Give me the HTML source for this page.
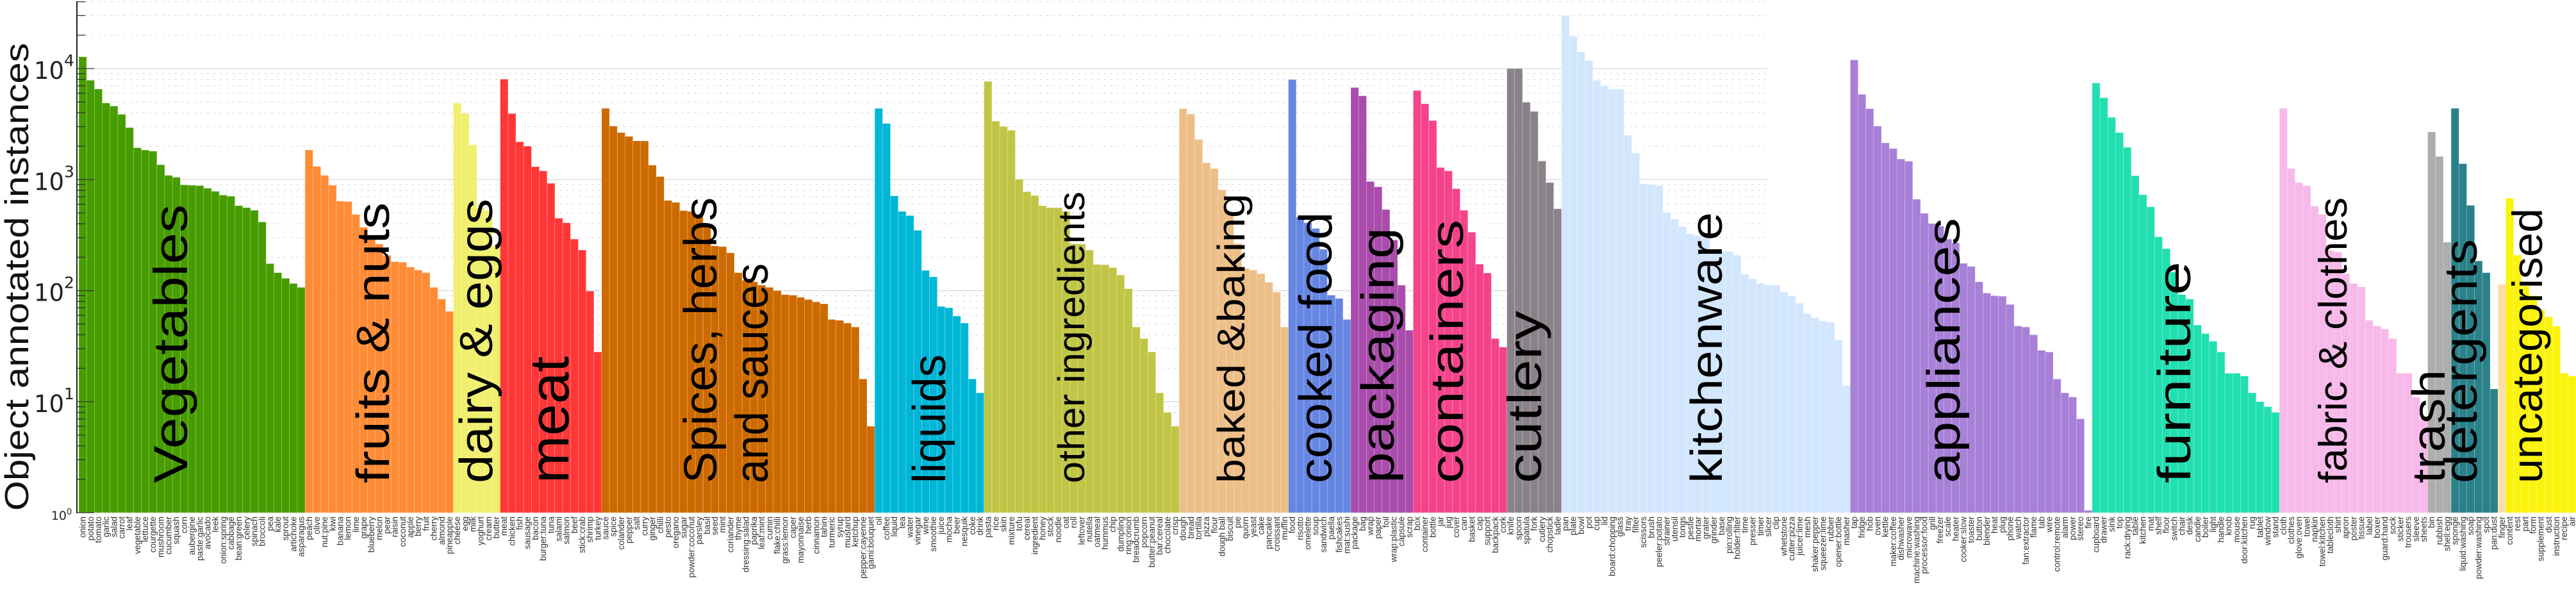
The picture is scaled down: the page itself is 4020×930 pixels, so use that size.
<!DOCTYPE html>
<html><head><meta charset="utf-8"><title>Object annotated instances by category</title>
<style>
html,body{margin:0;padding:0;background:#fff;}
svg{display:block;}
text{font-family:"Liberation Sans Narrow","Liberation Sans",sans-serif;}
</style></head>
<body>
<svg id="chart" width="4020" height="930" viewBox="0 0 4020 930" xmlns="http://www.w3.org/2000/svg">
<g id="grid"></g>
<g id="bars"></g>
<g id="catlabels"></g>
<g id="xlabels"></g>
<g id="yaxis"></g>
<text transform="translate(44,432) rotate(-90)" text-anchor="middle" font-size="52" textLength="730" lengthAdjust="spacingAndGlyphs" fill="#111">Object annotated instances</text>
</svg>
<script>
const categoryNames = ["Vegetables","fruits & nuts","dairy & eggs","meat","Spices, herbs|and sauces","liquids","other ingredients","baked &baking","cooked food","packaging","containers","cutlery","kitchenware","appliances","furniture","fabric & clothes","trash","detergents","","uncategorised"];
const categoryCounts = [29,19,6,13,35,14,25,14,8,8,12,7,37,31,24,19,3,6,1,9];
const labels = [
"onion","potato","tomato","garlic","salad","carrot","leaf","vegetable","lettuce","courgette","mushroom","cucumber","squash","corn","aubergine","paste:garlic","avocado","leek","onion:spring","cabbage","bean:green","celery","spinach","broccoli","pea","kale","sprout","artichoke","asparagus",
"peach","olive","nut:pine","kiwi","banana","lemon","lime","grape","blueberry","melon","pear","raisin","coconut","apple","berry","fruit","cherry","almond","pineapple",
"cheese","egg","milk","yoghurt","cream","butter",
"meat","chicken","fish","sausage","bacon","burger:tuna","tuna","salami","salmon","beef","stick:crab","shrimp","turkey",
"sauce","spice","colander","pepper","salt","curry","ginger","chilli","pesto","oregano","sugar","powder:coconut","parsley","basil","seed","mint","coriander","thyme","dressing:salad","paprika","leaf:mint","cumin","flake:chilli","grass:lemon","caper","mayonnaise","herb","cinnamon","tahini","turmeric","syrup","mustard","ketchup","pepper:cayenne","gami:bouquet",
"oil","coffee","liquid","tea","water","vinegar","wine","smoothie","juice","mocha","beer","nesquik","coke","drink",
"pasta","rice","skin","mixture","tofu","cereal","ingredient","honey","stock","noodle","oat","roll","leftover","nutella","oatmeal","hummus","chip","dumpling","ring:onion","breadcrumb","popcorn","butter:peanut","bar:cereal","chocolate","crisp",
"dough","bread","tortilla","pizza","flour","dough ball","biscuit","pie","quorn","yeast","cake","pancake","croissant","muffin",
"food","risotto","omelette","soup","sandwich","paella","fishcakes","mat:sushi",
"package","bag","wrap","paper","foil","wrap:plastic","capsule","scrap",
"box","container","bottle","jar","jug","cover","can","basket","cap","support","backpack","cork",
"knife","spoon","spatula","fork","cutlery","chopstick","ladle",
"pan","plate","bowl","pot","cup","lid","board:chopping","glass","tray","filter","scissors","brush","peeler:potato","strainer","utensil","tongs","pestle","mortar","grater","grinder","base","pin:rolling","holder:filter","time","presser","timer","slicer","clip","whetstone","cutter:pizza","juicer:lime","mesh","shaker:pepper","squeezer:lime","rubber","opener:bottle","masher",
"tap","fridge","hob","oven","kettle","maker:coffee","dishwasher","microwave","machine:washing","processor:food","grill","freezer","scale","heater","cooker:slow","toaster","button","blender","heat","plug","phone","watch","fan:extractor","flame","tab","wire","control:remote","alarm","power","stereo","fire",
"cupboard","drawer","sink","top","rack:drying","table","kitchen","mat","shelf","floor","switch","chair","desk","candle","boiler","light","handle","knob","mouse","door:kitchen","rug","tablet","window","stand",
"cloth","clothes","glove:oven","towel","napkin","towel:kitchen","tablecloth","shirt","apron","poster","tissue","label","boxer","guard:hand","sock","sticker","trousers","sleeve","sheets",
"bin","rubbish","shell:egg",
"sponge","liquid:washing","soap","powder:washing","spot","pan:dust",
"finger",
"content","rest","part","form","supplement","dust","instruction","recipe","air"];
const counts = [
12760,7840,6540,4890,4590,3865,2937,1935,1847,1803,1359,1091,1048,896,889,882,835,784,725,708,582,559,529,415,175,145,129,116,107,
1847,1316,1091,889,639,634,485,372,310,263,208,182,180,163,153,145,107,84,65,
4890,3960,2060,559,525,249,
8020,3930,2190,2000,1306,1197,925,449,408,291,232,99,28,
4380,3030,2650,2450,2230,2230,1349,1064,649,624,525,517,467,393,253,249,219,145,124,120,112,107,100,92,91,87,83,79,76,55,54,51,47,16,6,
4380,3200,713,517,474,349,152,133,72,70,59,51,16,12,
7660,3360,3010,2780,1007,778,719,582,559,559,517,265,263,232,172,171,161,138,104,47,37,28,12,8,6,
4350,3890,2300,1413,1256,809,497,265,159,153,142,119,97,47,
7960,459,408,363,236,91,85,55,
6750,5680,962,861,537,286,112,44,
6340,4820,3400,1285,1197,828,529,336,173,144,37,31,
10000,10000,4970,4110,1470,940,546,
30000,19500,14130,11800,7840,7020,6540,6540,2510,1730,917,903,882,505,442,378,325,313,298,234,226,225,208,140,128,116,112,112,97,90,77,62,57,53,52,36,14,
11970,5860,4350,3030,2140,1905,1530,1460,665,497,402,380,291,269,176,165,120,95,90,89,75,48,47,40,29,28,16,12,11,7,1.05,
7410,5460,3630,2650,1950,1082,730,568,305,239,147,92,84,49,41,35,28,18,18,17,12,10,9,8,
4380,1256,940,882,577,485,230,223,142,116,108,54,48,45,37,18,18,11,7,
2690,1615,273,
4380,1390,586,185,145,13,
114,
681,209,110,90,67,58,48,18,17];

const colors = ["#479c00","#ff8b35","#f0ef6e","#ff3636","#cc6a00","#00b6d6","#c1c545","#edbf88","#6686e2","#a94cab","#f4438a","#8a8289","#d2e7fd","#a780d7","#21dfb0","#f7b9e9","#adadac","#2a8189","#fcdcab","#fbf30c"];
// label layout: [baseline x, bottom y, length, font size]
const labelLayout = [[292,754,435,74],[607,754,438,72],[768,754,444,72],[887,754,198,86],[[1118,754,446,72],[1198,754,343,72]],[1475,754,201,72],[1692,754,455,58],[1942,754,452,60],[2078,754,423,72],[2175,754,399,72],[2283,754,411,72],[2405,754,269,74],[2687,754,423,70],[3058,754,414,72],[3418,754,346,72],[3662,754,446,62],[3815,754,177,72],[3865,754,381,72],null,[3967,754,429,66]];

const NS="http://www.w3.org/2000/svg";
const X0=123, BW=(4020-123)/counts.length, YB=800, DEC=173.25;
function xScale(i){return X0+i*BW;}
function yScale(v){return YB-Math.log10(v)*DEC;}
function mk(tag,attrs,parent){const e=document.createElementNS(NS,tag);for(const k in attrs)e.setAttribute(k,attrs[k]);parent.appendChild(e);return e;}

const grid=document.getElementById('grid');
for(let k=0;k<5;k++){
  for(let m=1;m<10;m++){
    const v=m*Math.pow(10,k); if(v>40000||v<=1) continue;
    const y=yScale(v);
    const l=mk('line',{x1:m===1?147:133,x2:2758,y1:y,y2:y,stroke:m===1?'#dedede':'#cfcfcf','stroke-width':m===1?1.5:1,'stroke-dasharray':m===1?'':'3,7'},grid);
    
    
  }
}

const bars=document.getElementById('bars');
let idx=0;
categoryCounts.forEach((n,c)=>{
  for(let j=0;j<n;j++){
    const i=idx+j, v=counts[i], y=yScale(v);
    const r=mk('rect',{x:xScale(i),y:y,width:BW,height:YB-y,fill:colors[c],stroke:'rgba(255,255,255,0.28)','stroke-width':0.8},bars);
    
    
  }
  idx+=n;
});

const xl=document.getElementById('xlabels');
labels.forEach((lab,i)=>{
  const cx=xScale(i)+BW/2+4.5;
  const t=mk('text',{transform:`translate(${cx},806) rotate(-90)`,'text-anchor':'end','font-size':13.5,fill:'#333'},xl);
  t.textContent=lab;
  
  
});

const cl=document.getElementById('catlabels');
categoryNames.forEach((name,c)=>{
  const lay=labelLayout[c]; if(!lay||!name) return;
  const parts=name.split('|');
  const lays=Array.isArray(lay[0])?lay:[lay];
  parts.forEach((p,k)=>{
    const L=lays[k];
    const t=mk('text',{transform:`translate(${L[0]},${L[1]}) rotate(-90)`,'font-size':L[3],textLength:L[2],lengthAdjust:'spacingAndGlyphs',fill:'#000'},cl);
    t.textContent=p;
    
    
  });
});

const ya=document.getElementById('yaxis');
const sp=mk('line',{x1:120,x2:120,y1:2,y2:801,stroke:'#222','stroke-width':2},ya);


for(let k=0;k<5;k++){
  for(let m=1;m<10;m++){
    const v=m*Math.pow(10,k); if(v>40000) continue;
    const y=yScale(v);
    const tk=mk('line',{x1:120,x2:m===1?147:133,y1:y,y2:y,stroke:'#333','stroke-width':1.3},ya);
    
    
  }
}
const yTickExp=[0,1,2,3,4];
yTickExp.forEach(k=>{
  const y=yScale(Math.pow(10,k));
  const big=k>0;
  const t=mk('text',{x:big?100:104,y:big?y+16:y+11,'text-anchor':'end','font-size':big?37:19,fill:'#222',style:'font-family:"DejaVu Sans","Liberation Sans",sans-serif'},ya);
  t.textContent='10';
  
  
  const s=mk('text',{x:big?100:104,y:big?y-4:y+3,'font-size':big?25:13,fill:'#222',style:'font-family:"DejaVu Sans","Liberation Sans",sans-serif'},ya);
  s.textContent=String(k);
  
  
});
</script>
</body></html>
